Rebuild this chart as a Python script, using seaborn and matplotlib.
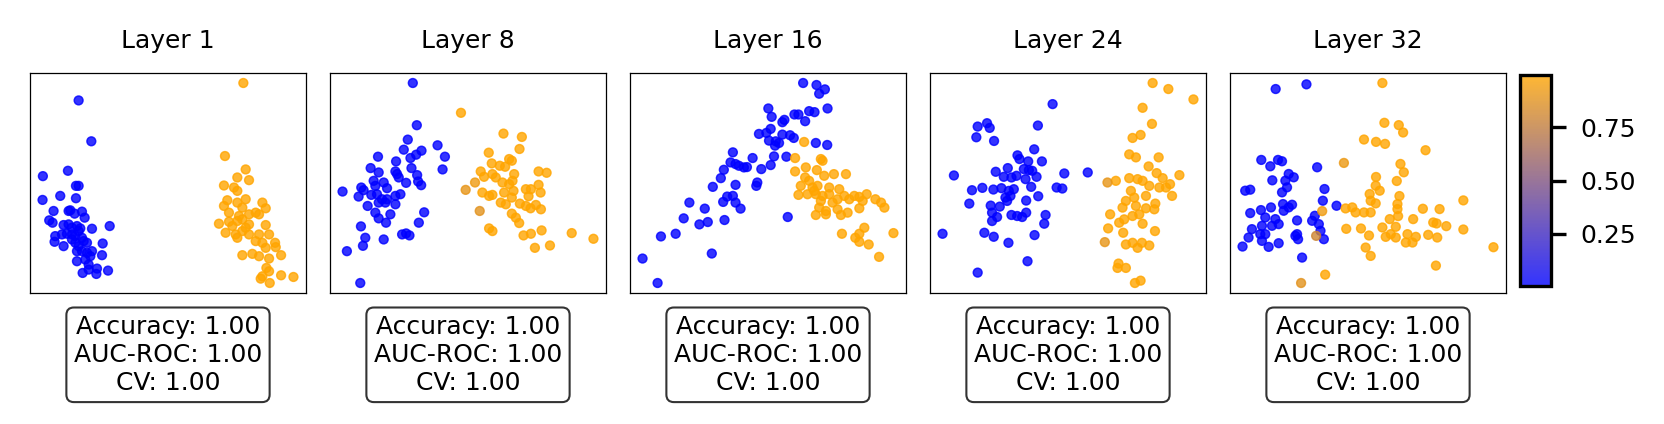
import numpy as np
import pandas as pd
import matplotlib
matplotlib.use("Agg")
import matplotlib.pyplot as plt
import seaborn as sns
from matplotlib.colors import LinearSegmentedColormap, Normalize
from matplotlib.cm import ScalarMappable

# 2-D projection of hidden states per layer (arbitrary units, y grows downward)
layers = [1, 8, 16, 24, 32]
accuracy = [1.00, 1.00, 1.00, 1.00, 1.00]
auc_roc = [1.00, 1.00, 1.00, 1.00, 1.00]
cv_score = [1.00, 1.00, 1.00, 1.00, 1.00]

p_neg = 0.005   # predicted probability of class-0 points
p_pos = 0.995   # predicted probability of class-1 points

l1_blue = [(150,90),(188,212),(43,316),(118,300),(142,345),(150,345),(42,387),(95,375),(142,382),
           (75,420),(120,420),(125,418),(160,422),(138,428),(168,440),(62,448),(72,455),(105,462),
           (120,460),(130,470),(145,465),(155,472),(190,473),(243,465),(80,495),(100,490),(115,488),
           (130,490),(140,495),(150,480),(160,500),(78,512),(105,525),(140,515),(165,510),(175,515),
           (222,517),(145,540),(160,540),(175,545),(190,540),(220,552),(145,570),(170,565),(180,580),
           (162,605),(180,595),(205,592),(203,608),(238,598),(130,505),(150,525),(185,555)]
l1_orange = [(643,38),(588,256),(650,296),(625,320),(660,328),(585,344),(615,350),(625,360),(650,385),
             (595,388),(585,405),(625,395),(640,410),(700,395),(710,412),(600,425),(630,435),(660,430),
             (680,425),(690,430),(570,458),(600,452),(625,450),(640,445),(660,460),(710,462),(590,485),
             (620,490),(640,480),(660,490),(690,490),(720,490),(625,500),(700,515),(738,515),(710,530),
             (740,528),(640,552),(670,548),(690,555),(720,562),(756,552),(712,590),(720,600),(700,615),
             (695,622),(722,635),(756,612),(793,617),(610,465),(650,470),(680,510)]
l1_mixed = []

l8_blue = [(252,38),(264,164),(237,207),(225,237),(148,258),(126,292),(202,272),(245,262),(262,252),
           (278,240),(326,224),(348,258),(341,296),(248,292),(150,305),(200,302),(210,320),(265,313),
           (232,336),(268,332),(277,343),(42,362),(98,350),(105,358),(140,345),(165,335),(175,352),
           (90,377),(128,372),(145,370),(160,385),(175,385),(200,375),(215,370),(117,405),(150,395),
           (170,395),(200,400),(140,425),(185,430),(150,442),(172,455),(286,424),(270,455),(97,466),
           (110,500),(103,524),(55,540),(165,505),(220,490),(232,487),(242,493),(95,635),(205,310),
           (135,330)]
l8_orange = [(396,127),(523,189),(578,199),(571,235),(479,246),(488,278),(540,265),(548,270),(512,285),
             (528,288),(455,302),(465,318),(490,310),(500,320),(555,310),(628,302),(652,306),(520,335),
             (540,340),(550,330),(460,365),(480,375),(490,372),(525,365),(553,360),(590,355),(605,355),
             (628,342),(634,365),(598,376),(515,395),(530,400),(548,380),(572,398),(590,405),(604,412),
             (620,402),(635,415),(548,428),(560,440),(570,456),(480,472),(490,480),(637,478),(583,493),
             (605,488),(727,486),(792,503),(617,530),(662,523)]
l8_mixed = [(410,357,0.9),(452,420,0.88),(438,335,0.93)]

l16_blue = [(522,38),(562,44),(587,57),(570,70),(418,114),(428,139),(496,132),(508,132),(540,122),
            (556,125),(595,114),(528,152),(460,155),(466,148),(425,175),(390,190),(412,187),(420,210),
            (440,212),(460,192),(483,194),(494,202),(438,225),(450,217),(560,217),(594,223),(435,257),
            (472,258),(425,283),(397,295),(312,245),(371,262),(305,275),(320,280),(345,290),(354,289),
            (285,297),(276,322),(252,348),(320,342),(385,335),(382,345),(295,377),(283,393),(312,375),
            (320,395),(335,413),(182,395),(228,413),(165,442),(212,460),(237,453),(287,447),(141,488),
            (97,496),(249,547),(42,562),(87,635),(476,438),(330,285)]
l16_orange = [(525,214),(498,262),(575,265),(580,270),(530,290),(498,302),(563,298),(585,315),(614,310),
              (650,310),(528,320),(515,345),(550,350),(565,345),(600,350),(630,355),(508,372),(535,370),
              (560,370),(580,375),(600,370),(625,385),(645,375),(675,375),(690,378),(712,370),(738,385),
              (755,395),(765,410),(690,412),(570,410),(590,420),(625,415),(560,432),(590,430),(635,432),
              (655,425),(705,470),(690,488),(678,500),(690,512),(718,520),(638,488),(749,557),(792,486),
              (555,360),(575,390),(610,395),(540,330),(660,385),(700,390)]
l16_mixed = []

l24_blue = [(371,101),(147,168),(175,158),(183,172),(143,200),(196,211),(327,165),(316,236),(266,254),
            (272,265),(298,272),(339,272),(237,292),(201,303),(225,318),(248,320),(263,315),(285,295),
            (300,298),(310,300),(323,318),(290,325),(307,348),(76,314),(130,358),(161,351),(194,356),
            (218,352),(240,360),(255,355),(230,380),(245,375),(292,389),(328,376),(383,350),(400,353),
            (406,308),(476,305),(122,398),(186,404),(213,407),(190,425),(205,438),(190,450),(248,432),
            (265,435),(280,438),(292,425),(350,432),(346,458),(42,488),(167,485),(195,497),(239,515),
            (317,492),(296,570),(147,604),(235,390)]
l24_orange = [(670,38),(717,56),(792,87),(640,112),(668,160),(634,193),(610,202),(600,251),(620,260),
              (688,260),(658,287),(682,307),(700,322),(750,313),(560,330),(600,322),(625,325),(640,330),
              (660,345),(690,350),(710,350),(722,340),(728,375),(605,360),(590,390),(615,380),(650,375),
              (620,405),(650,412),(678,398),(675,415),(543,430),(570,455),(585,445),(610,435),(630,430),
              (640,458),(537,472),(582,485),(677,480),(590,520),(610,515),(625,530),(638,515),(660,523),
              (568,577),(565,590),(590,590),(617,635),(634,628),(580,410)]
l24_mixed = [(535,335,0.9),(527,513,0.9)]

l32_blue = [(141,56),(233,42),(98,268),(125,287),(148,268),(160,272),(265,290),(180,310),(195,320),
            (170,330),(131,329),(175,350),(160,365),(50,360),(65,357),(287,355),(282,390),(323,405),
            (65,427),(97,418),(127,410),(163,400),(180,410),(190,402),(165,420),(110,440),(140,445),
            (150,460),(130,465),(100,465),(205,449),(258,435),(250,450),(270,460),(70,475),(60,500),
            (95,490),(110,490),(100,510),(120,528),(150,517),(42,527),(200,495),(208,505),(275,480),
            (285,505),(220,560),(205,490)]
l32_orange = [(460,38),(466,157),(509,164),(522,186),(405,207),(441,214),(468,220),(589,239),(514,280),
              (524,305),(441,319),(503,331),(440,345),(452,360),(422,370),(511,376),(425,390),(440,398),
              (350,413),(370,410),(380,425),(405,425),(425,425),(505,400),(505,415),(507,436),(482,445),
              (552,445),(581,414),(631,415),(702,389),(352,474),(396,473),(460,470),(500,468),(420,494),
              (470,498),(500,500),(485,490),(535,490),(560,498),(530,515),(550,515),(597,492),(624,500),
              (612,455),(622,458),(651,466),(702,476),(792,529),(410,530),(425,555),(620,584),(289,611)]
l32_mixed = [(345,277,0.92),(280,421,0.93),(262,495,0.8),(217,636,0.88)]

layer_points = [(l1_blue, l1_orange, l1_mixed), (l8_blue, l8_orange, l8_mixed),
                (l16_blue, l16_orange, l16_mixed), (l24_blue, l24_orange, l24_mixed),
                (l32_blue, l32_orange, l32_mixed)]

cmap = LinearSegmentedColormap.from_list("prob", ["blue", "orange"])
cmap_bar = LinearSegmentedColormap.from_list("prob_a", [(0, 0, 1, 0.8), (1, 0.647, 0, 0.8)])
norm = Normalize(vmin=p_neg, vmax=p_pos)

W, H, DPI = 1664, 424, 300
fig = plt.figure(figsize=(W / DPI, H / DPI), dpi=DPI)

for i, layer in enumerate(layers):
    blue, orange, mixed = layer_points[i]
    rows = [(x, y, p_neg) for x, y in blue] + [(x, y, p_pos) for x, y in orange] + list(mixed)
    df = pd.DataFrame(rows, columns=["pc1", "pc2", "prob"])

    ax = fig.add_axes([(30 + 300 * i) / W, (H - 293) / H, 276 / W, 220 / H])
    sns.scatterplot(data=df, x="pc1", y="pc2", hue="prob", palette=cmap, hue_norm=norm,
                    s=4.5, alpha=0.8, linewidth=0.35, edgecolor="face", legend=False, ax=ax)
    ax.invert_yaxis()
    ax.set_xticks([])
    ax.set_yticks([])
    ax.set_xlabel("")
    ax.set_ylabel("")
    for sp in ax.spines.values():
        sp.set_linewidth(0.3)
    ax.set_title(f"Layer {layer}", fontsize=6, pad=6)
    txt = f"Accuracy: {accuracy[i]:.2f}\nAUC-ROC: {auc_roc[i]:.2f}\nCV: {cv_score[i]:.2f}"
    ax.text(0.5, -0.1, txt, transform=ax.transAxes, ha="center", va="top", fontsize=6,
            bbox=dict(boxstyle="round", facecolor="white", alpha=0.8, linewidth=0.5))

cax = fig.add_axes([1520 / W, (H - 286) / H, 31 / W, 211 / H])
sm = ScalarMappable(norm=norm, cmap=cmap_bar)
cb = fig.colorbar(sm, cax=cax, ticks=[0.25, 0.50, 0.75])
cb.ax.tick_params(labelsize=6, length=3.5, width=0.8)
cb.outline.set_linewidth(0.8)

fig.savefig("out.png", dpi=DPI)
